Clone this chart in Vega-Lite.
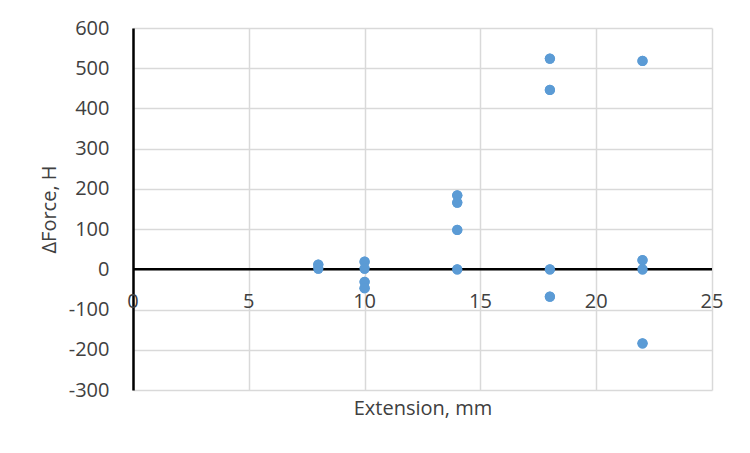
{
  "$schema": "https://vega.github.io/schema/vega-lite/v6.json",
  "width": 579,
  "height": 362,
  "autosize": {"type": "none"},
  "padding": {"left": 133, "top": 28, "right": 38, "bottom": 63},
  "background": "white",
  "config": {
    "view": {"stroke": null},
    "font": "Open Sans"
  },
  "datasets": {
    "points": [
      {"extension": 8, "dforce": 12},
      {"extension": 8, "dforce": 2},
      {"extension": 10, "dforce": 19},
      {"extension": 10, "dforce": 2},
      {"extension": 10, "dforce": -31},
      {"extension": 10, "dforce": -47},
      {"extension": 14, "dforce": 184},
      {"extension": 14, "dforce": 166},
      {"extension": 14, "dforce": 98},
      {"extension": 14, "dforce": 0},
      {"extension": 18, "dforce": 524},
      {"extension": 18, "dforce": 446},
      {"extension": 18, "dforce": 0},
      {"extension": 18, "dforce": -68},
      {"extension": 22, "dforce": 518},
      {"extension": 22, "dforce": 23},
      {"extension": 22, "dforce": 0},
      {"extension": 22, "dforce": -184}
    ],
    "xticks": [
      {"tick": 0}, {"tick": 5}, {"tick": 10}, {"tick": 15}, {"tick": 20}, {"tick": 25}
    ],
    "zero": [{"level": 0}]
  },
  "layer": [
    {
      "data": {"name": "points"},
      "mark": {"type": "point", "filled": true, "opacity": 1, "size": 105, "color": "#5B9BD5"},
      "encoding": {
        "x": {
          "field": "extension", "type": "quantitative",
          "scale": {"domain": [0, 25], "nice": false, "zero": false},
          "axis": {
            "title": "Extension, mm",
            "titleFont": "Open Sans", "titleFontSize": 20, "titleFontWeight": "normal", "titleColor": "#404040",
            "titlePadding": 8,
            "values": [0, 5, 10, 15, 20, 25],
            "labels": false, "ticks": false, "domain": false,
            "grid": true, "gridColor": "#d9d9d9", "gridWidth": 1.5
          }
        },
        "y": {
          "field": "dforce", "type": "quantitative",
          "scale": {"domain": [-300, 600], "nice": false, "zero": false},
          "axis": {
            "title": "ΔForce, H",
            "titleFont": "Open Sans", "titleFontSize": 20, "titleFontWeight": "normal", "titleColor": "#404040",
            "titlePadding": 9,
            "values": [-300, -200, -100, 0, 100, 200, 300, 400, 500, 600],
            "labelExpr": "replace(datum.label, '−', '-')",
            "labelFont": "Open Sans", "labelFontSize": 20, "labelColor": "#404040",
            "labelPadding": 24, "ticks": false,
            "domain": true, "domainColor": "black", "domainWidth": 2.5,
            "grid": true, "gridColor": "#d9d9d9", "gridWidth": 1.5
          }
        }
      }
    },
    {
      "data": {"name": "zero"},
      "mark": {"type": "rule", "color": "black", "strokeWidth": 2.5},
      "encoding": {"y": {"field": "level", "type": "quantitative"}}
    },
    {
      "data": {"name": "xticks"},
      "mark": {"type": "text", "font": "Open Sans", "fontSize": 20, "color": "#404040", "baseline": "middle", "align": "center", "dy": 33},
      "encoding": {
        "x": {"field": "tick", "type": "quantitative"},
        "y": {"datum": 0, "type": "quantitative"},
        "text": {"field": "tick", "type": "quantitative"}
      }
    },
    {
      "data": {"name": "points"},
      "mark": {"type": "point", "filled": true, "opacity": 1, "size": 105, "color": "#5B9BD5"},
      "encoding": {
        "x": {"field": "extension", "type": "quantitative"},
        "y": {"field": "dforce", "type": "quantitative"}
      }
    }
  ]
}
